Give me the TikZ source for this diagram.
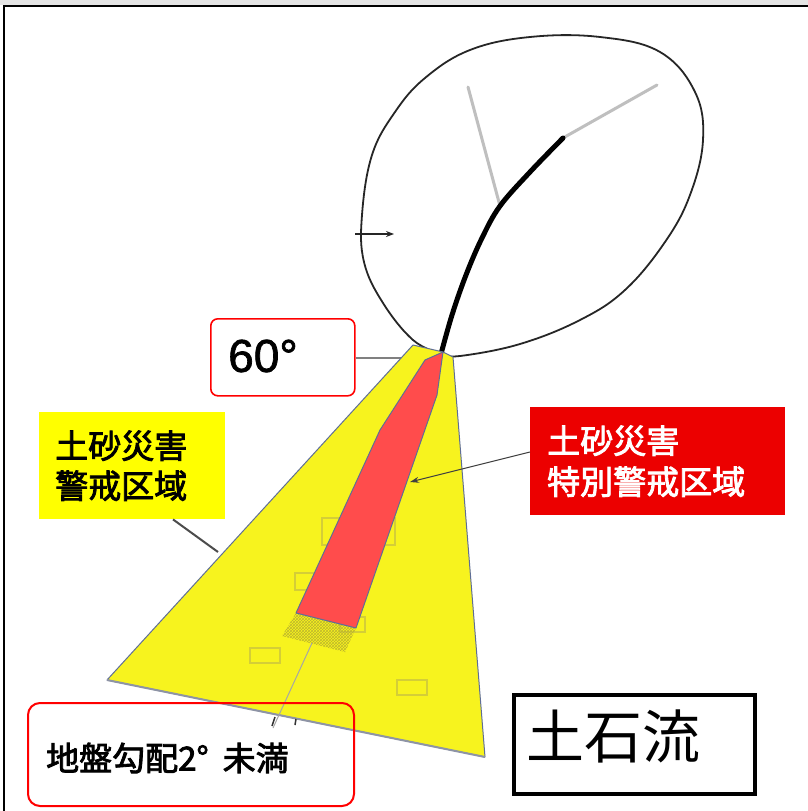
\documentclass[tikz,border=0pt]{standalone}
\usepackage{fontspec}
\setmainfont{Noto Sans CJK JP}
\newfontfamily\cjkmed{Noto Sans CJK JP}[FakeBold=2.5]
\newfontfamily\latinsans{Liberation Sans}[FakeBold=1.5]
\usetikzlibrary{arrows.meta,patterns}

\definecolor{zoneyellow}{RGB}{247,243,30}
\definecolor{labelyellow}{RGB}{255,255,0}
\definecolor{specialred}{RGB}{255,76,76}
\definecolor{labelred}{RGB}{236,0,0}
\definecolor{edgeblue}{RGB}{95,110,150}
\definecolor{mapline}{RGB}{212,206,55}
\definecolor{hatchcol}{RGB}{190,182,45}
\definecolor{framegray}{RGB}{228,228,228}

\tikzset{
  zoneedge/.style={draw=edgeblue, line width=1pt, line join=round},
  maprect/.style={draw=mapline, line width=1.3pt},
  pointer/.style={draw=black!75, line width=1pt},
  redbox/.style={draw=red, line width=1.6pt, rounded corners=7pt},
  stream/.style={line width=5pt, line cap=round, line join=round},
  branch/.style={draw=black!25, line width=3pt, line cap=round},
}

\begin{document}
\begin{tikzpicture}[x=1pt,y=-1pt]
\useasboundingbox (0,0) rectangle (808,811);
\fill[white] (0,0) rectangle (808,811);

% frame
\fill[framegray] (0,0) rectangle (808,5);
\draw[line width=2pt] (4,811) -- (4,6) -- (808,6);

% key points
\coordinate (apex) at (441,354);
\coordinate (fork) at (500,206);
\coordinate (bend) at (563,138);

% catchment boundary
\draw[black!85, line width=1.8pt, line join=round]
  plot[smooth, tension=0.65] coordinates {(441,354) (413,340) (383,303) (364,262)
    (362,215) (372,155) (395,112) (425,78) (470,50) (530,37) (600,37) (660,52)
    (695,92) (703,140) (690,195) (665,242) (625,290) (580,320) (520,344)
    (460,356) (441,354)};

% tributaries and main channel
\draw[branch] (fork) -- (468,87);
\draw[branch] (bend) -- (657,85);
\draw[stream] plot[smooth, tension=0.6] coordinates {(apex) (452,315) (466,275) (482,238) (fork) (530,172) (bend)};

% inflow arrow
\coordinate (inA) at (355,234);
\coordinate (inB) at (394,234);
\draw[black!85, line width=1.5pt, -{Stealth[length=8pt,width=6pt]}] (inA) -- (inB);

% angle label
\node[redbox, fill=white, minimum width=144pt, minimum height=77pt, anchor=north west,
      inner sep=0pt] (angle) at (210,318) {};
\node[font=\latinsans\fontsize{46}{46}\selectfont, anchor=center] (angletext) at (263,356) {60°};
\draw[black!50, line width=1.5pt] (angle.east |- 0,358) -- (apex |- 0,358);

% warning zone (fan)
\path[fill=zoneyellow, zoneedge]
  (107,680) coordinate (fanL) -- (413,345) -- (443,352) -- (453,357)
  -- (485,757) coordinate (fanR) -- cycle;
\draw[edgeblue!70!black!60, line width=2pt] (fanL) -- (fanR);

% faint map details under the zone
\draw[maprect] (322,518) rectangle (395,545);
\draw[maprect] (295,573) rectangle (316,590);
\draw[maprect] (250,648) rectangle (280,663);
\draw[maprect] (397,680) rectangle (427,695);
\draw[maprect] (340,617) rectangle (365,632);
\fill[pattern=crosshatch, pattern color=hatchcol] (296,613) -- (356,628) -- (345,652) -- (282,636) -- cycle;
\draw[black!35, line width=1pt] (312,643) -- (273,728);
\draw[black!80, line width=1.5pt] (275,717) -- (272,726);
\draw[black!80, line width=1.5pt] (296,719) -- (295,725);

% special warning zone
\path[fill=specialred, zoneedge]
  (425,360) -- (443,352) -- (437,395) -- (356,628) -- (296,613) -- (380,430) -- cycle;
\coordinate (redtip) at (410,482);
\coordinate (fanedge) at (218,552);

% zone labels
\node[fill=labelyellow, anchor=north west, minimum width=186pt, minimum height=107pt,
      text width=154pt, inner xsep=16pt, inner ysep=0pt, align=left,
      font=\cjkmed\fontsize{33}{40}\selectfont] (yellowlabel) at (39,412)
      {土砂災害\\警戒区域};
\node[fill=labelred, text=white, anchor=north west, minimum width=255pt, minimum height=108pt,
      text width=221pt, inner xsep=17pt, inner ysep=0pt, align=left,
      font=\cjkmed\fontsize{33}{41}\selectfont] (redlabel) at (530,407)
      {土砂災害\\特別警戒区域};
\draw[black!70, line width=2pt] (yellowlabel.south -| 173,0) -- (fanedge);
\draw[pointer, -{Stealth[length=9pt,width=6pt]}] (redlabel.west |- 0,452) -- (redtip);

% slope label
\node[redbox, draw=red, line width=2pt, rounded corners=12pt, minimum width=326pt,
      minimum height=103pt, anchor=north west, inner sep=0pt] (slope) at (27,702) {};
\node[anchor=west, inner sep=0pt, font=\cjkmed\fontsize{33}{33}\selectfont] (slopetext) at (46,758)
      {地盤勾配2°\hspace{14pt}未満};

% debris flow title
\node[draw=black, line width=4pt, minimum width=241pt, minimum height=99pt,
      anchor=north west, inner sep=0pt] (title) at (512,693) {};
\node[anchor=west, inner sep=0pt, font=\fontsize{58}{58}\selectfont] (titletext) at (526,736) {土石流};
\end{tikzpicture}
\end{document}
